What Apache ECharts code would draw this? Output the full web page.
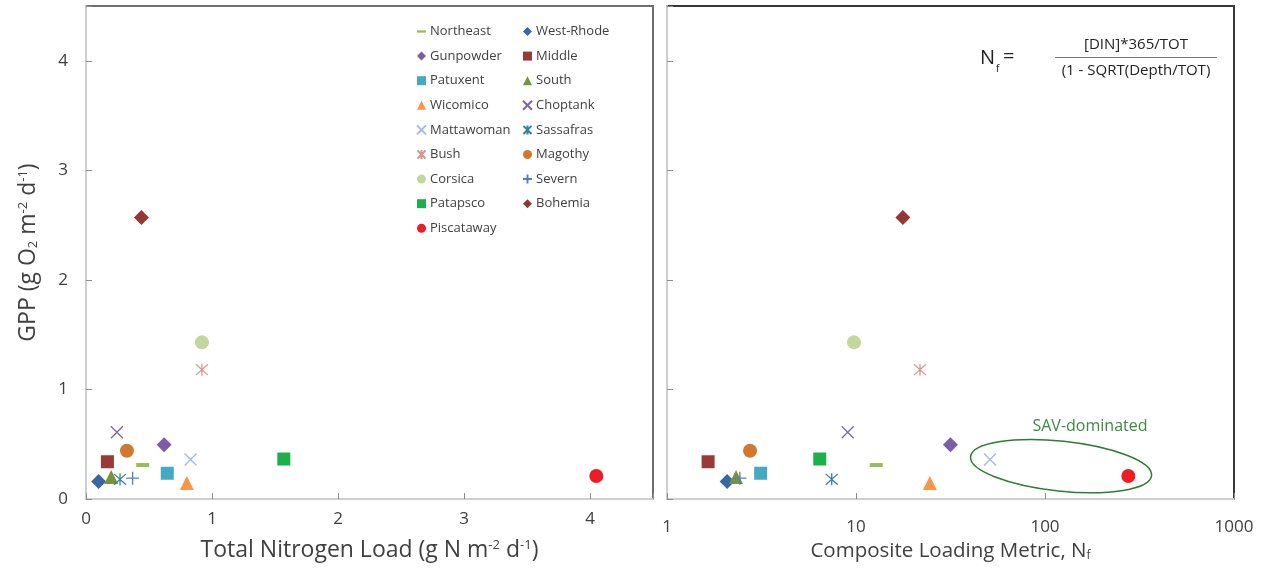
<!DOCTYPE html>
<html><head><meta charset="utf-8">
<script src="https://cdn.jsdelivr.net/npm/echarts@6/dist/echarts.min.js"></script>
<style>html,body{margin:0;padding:0;background:#fff}#c{width:1280px;height:573px}</style>
</head><body><div id="c"></div>
<script>
// ---- data ----
const estuaries = ['Northeast','West-Rhode','Gunpowder','Middle','Patuxent','South','Wicomico','Choptank','Mattawoman','Sassafras','Bush','Magothy','Corsica','Severn','Patapsco','Bohemia','Piscataway'];
const totalNitrogenLoad = [0.45, 0.10, 0.62, 0.17, 0.645, 0.20, 0.80, 0.245, 0.83, 0.27, 0.92, 0.325, 0.92, 0.37, 1.57, 0.44, 4.05];
const compositeMetric   = [12.8, 2.08, 31.6, 1.65, 3.13, 2.32, 24.6, 9.04, 51.2, 7.44, 21.8, 2.75, 9.76, 2.43, 6.43, 17.7, 276];
const gpp               = [0.31, 0.16, 0.495, 0.34, 0.235, 0.20, 0.145, 0.61, 0.36, 0.18, 1.18, 0.44, 1.43, 0.19, 0.365, 2.57, 0.21];
const leftTicks = [0, 1, 2, 3, 4];
const rightTicks = [1, 10, 100, 1000];
const legendColumn1 = ['Northeast','Gunpowder','Patuxent','Wicomico','Mattawoman','Bush','Corsica','Patapsco','Piscataway'];
const legendColumn2 = ['West-Rhode','Middle','South','Choptank','Sassafras','Magothy','Severn','Bohemia'];
const savCenter = [121.6, 0.30];
const savLabelAt = [173, 0.66];

// ---- styles ----
const X = 'path://M0,0L10,10M10,0L0,10';
const STAR = 'path://M0.5,0.5L9.5,9.5M9.5,0.5L0.5,9.5M5,0L5,10';
const PLUS = 'path://M5,0L5,10M0,5L10,5';
const styleOf = {
  'Northeast': {symbol:'rect', size:[13,4], color:'#9bbb59'},
  'West-Rhode': {symbol:'diamond', size:15, color:'#3a66a3'},
  'Gunpowder': {symbol:'diamond', size:15, color:'#7b5ea3'},
  'Middle': {symbol:'rect', size:13, color:'#983a38'},
  'Patuxent': {symbol:'rect', size:13, color:'#45a9c4'},
  'South': {symbol:'triangle', size:14, color:'#77933c'},
  'Wicomico': {symbol:'triangle', size:14, color:'#f79646'},
  'Choptank': {symbol:X, size:12, color:'#7d66a0', stroke:true},
  'Mattawoman': {symbol:X, size:12, color:'#a9b8e0', stroke:true},
  'Sassafras': {symbol:STAR, size:12, color:'#31859c', stroke:true},
  'Bush': {symbol:STAR, size:12, color:'#d99694', stroke:true},
  'Magothy': {symbol:'circle', size:14, color:'#d0782f'},
  'Corsica': {symbol:'circle', size:14, color:'#c3d69b'},
  'Severn': {symbol:PLUS, size:13, color:'#4f81bd', stroke:true},
  'Patapsco': {symbol:'rect', size:13, color:'#1cb04b'},
  'Bohemia': {symbol:'diamond', size:15, color:'#953735'},
  'Piscataway': {symbol:'circle', size:14, color:'#ee1c24'}
};
const FONT = "'Open Sans', 'Noto Sans', sans-serif";
const TXT = '#404040';

function mkSeries(name, i, xi, xv) {
  const s = styleOf[name];
  const itemStyle = s.stroke
    ? {color: 'rgba(0,0,0,0)', borderColor: s.color, borderWidth: 1.3, opacity: 1}
    : {color: s.color, opacity: 1};
  return {
    type: 'scatter', name: name, xAxisIndex: xi, yAxisIndex: xi,
    symbol: s.symbol, symbolSize: s.size, itemStyle: itemStyle,
    emphasis: {disabled: true}, silent: true, animation: false,
    data: [[xv[i], gpp[i]]]
  };
}
const series = [];
estuaries.forEach((n, i) => {
  series.push(mkSeries(n, i, 0, totalNitrogenLoad));
  series.push(mkSeries(n, i, 1, compositeMetric));
});

function legendData(list) {
  return list.map(n => n === 'Northeast' ? {name: n, icon: 'path://M0,0L12,0L12,3L0,3Z'} : {name: n});
}
const legendBase = {
  orient: 'vertical', top: 25, itemWidth: 9, itemHeight: 9, itemGap: 11.6,
  padding: 0, selectedMode: false,
  textStyle: {fontFamily: FONT, fontSize: 13, color: TXT, padding: [0,0,0,-1]}
};

const axisLineStyle = {show: true, lineStyle: {color: '#cfcfcf', width: 2}};
const tickStyle = {show: true, inside: true, length: 6, lineStyle: {color: '#8c8c8c'}};
const intFmt = v => (Math.abs(v - Math.round(v)) < 1e-9 ? String(Math.round(v)) : '');

function rich(big) {
  const small = Math.round(big * 0.58);
  return {
    a: {fontFamily: FONT, fontSize: big, color: TXT},
    s: {fontFamily: FONT, fontSize: small, color: TXT, verticalAlign: 'top', lineHeight: small + 2},
    b: {fontFamily: FONT, fontSize: small, color: TXT, verticalAlign: 'bottom', lineHeight: small + 2}
  };
}

const option = {
  backgroundColor: '#fff',
  animation: false,
  grid: [
    {left: 86, top: 6, width: 567, height: 493, show: true, borderColor: '#6e6e6e', borderWidth: 2, backgroundColor: 'transparent'},
    {left: 667, top: 6, width: 567, height: 493, show: true, borderColor: '#3a3a3a', borderWidth: 2, backgroundColor: 'transparent'}
  ],
  xAxis: [
    {gridIndex: 0, type: 'value', min: 0, max: 4.5, interval: 1,
     axisLine: axisLineStyle, axisTick: tickStyle, splitLine: {show: false},
     axisLabel: {fontFamily: FONT, fontSize: 17, color: TXT, margin: 12, formatter: intFmt,
                 customValues: leftTicks},
     name: '{a|Total Nitrogen Load (g N m}{s|-2}{a| d}{s|-1}{a|)}', nameLocation: 'middle', nameGap: 40,
     nameTextStyle: {rich: rich(23)}},
    {gridIndex: 1, type: 'log', logBase: 10, min: 1, max: 1000,
     axisLine: axisLineStyle, axisTick: tickStyle, splitLine: {show: false}, minorTick: {show: false},
     axisLabel: {fontFamily: FONT, fontSize: 17, color: TXT, margin: 20, formatter: v => String(v),
                 customValues: rightTicks},
     name: '{a|Composite Loading Metric, N}{b|f}', nameLocation: 'middle', nameGap: 42,
     nameTextStyle: {rich: rich(20.5)}},
  ],
  yAxis: [
    {gridIndex: 0, type: 'value', min: 0, max: 4.5, interval: 1,
     axisLine: axisLineStyle, axisTick: tickStyle, splitLine: {show: false},
     axisLabel: {fontFamily: FONT, fontSize: 17, color: TXT, margin: 18, formatter: intFmt},
     name: '{a|GPP (g O}{b|2}{a| m}{s|-2}{a| d}{s|-1}{a|)}', nameLocation: 'middle', nameGap: 46,
     nameTextStyle: {rich: rich(23)}},
    {gridIndex: 1, type: 'value', min: 0, max: 4.5, interval: 1,
     axisLine: axisLineStyle, axisTick: tickStyle, splitLine: {show: false},
     axisLabel: {show: false}}
  ],
  legend: [
    Object.assign({}, legendBase, {left: 416, data: legendData(legendColumn1)}),
    Object.assign({}, legendBase, {left: 522, data: legendData(legendColumn2)})
  ],
  series: series
};

const chart = echarts.init(document.getElementById('c'), null, {renderer: 'canvas'});
chart.setOption(option);

const c = chart.convertToPixel({xAxisIndex: 1, yAxisIndex: 1}, savCenter);
const t = chart.convertToPixel({xAxisIndex: 1, yAxisIndex: 1}, savLabelAt);
chart.setOption({
  graphic: [
    {type: 'ellipse', x: c[0], y: c[1], rotation: -6 * Math.PI / 180,
     shape: {cx: 0, cy: 0, rx: 91, ry: 25},
     style: {fill: 'none', stroke: '#2e7d32', lineWidth: 1.5}, silent: true},
    {type: 'text', x: t[0], y: t[1],
     style: {text: 'SAV-dominated', fill: '#3b8a45', font: "16px " + FONT, textAlign: 'center', textVerticalAlign: 'middle'}},
    {type: 'text', left: 980, top: 48, style: {text: 'N', fill: '#222', font: "20px " + FONT}},
    {type: 'text', left: 996, top: 64, style: {text: 'f', fill: '#222', font: "10px " + FONT}},
    {type: 'text', left: 1003, top: 47, style: {text: '=', fill: '#222', font: "20px " + FONT}},
    {type: 'text', x: 1136, y: 45, style: {text: '[DIN]*365/TOT', fill: '#222', font: "15px " + FONT, textAlign: 'center', textVerticalAlign: 'middle'}},
    {type: 'line', shape: {x1: 1055, y1: 57.5, x2: 1217, y2: 57.5}, style: {stroke: '#777', lineWidth: 1}},
    {type: 'text', x: 1136, y: 71, style: {text: '(1 - SQRT(Depth/TOT)', fill: '#222', font: "15px " + FONT, textAlign: 'center', textVerticalAlign: 'middle'}}
  ]
});
</script>
</body></html>
